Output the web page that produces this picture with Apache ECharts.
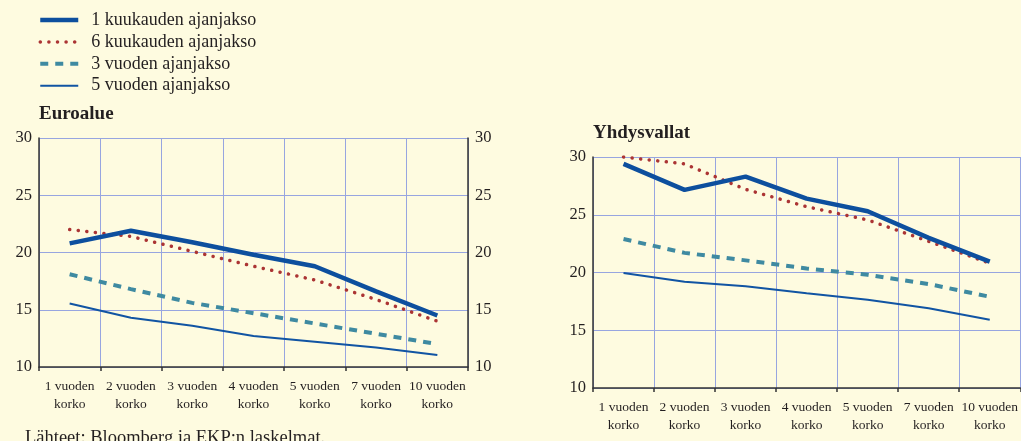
<!DOCTYPE html>
<html>
<head>
<meta charset="utf-8">
<script src="https://cdn.jsdelivr.net/npm/echarts@6/dist/echarts.min.js"></script>
<style>
html,body{margin:0;padding:0;background:#fefbe0;}
#main{width:1021px;height:441px;}
</style>
</head>
<body>
<div id="main"></div>
<script>
// maturities on the x axis
var categories = ['1 vuoden\nkorko','2 vuoden\nkorko','3 vuoden\nkorko','4 vuoden\nkorko','5 vuoden\nkorko','7 vuoden\nkorko','10 vuoden\nkorko'];
var seriesNames = ['1 kuukauden ajanjakso','6 kuukauden ajanjakso','3 vuoden ajanjakso','5 vuoden ajanjakso'];

// Euroalue
var euro1m = [20.8, 21.9, 20.9, 19.8, 18.8, 16.6, 14.5];
var euro6m = [22.0, 21.4, 20.1, 18.8, 17.6, 15.9, 14.0];
var euro3y = [18.1, 16.8, 15.6, 14.7, 13.8, 12.9, 12.0];
var euro5y = [15.55, 14.3, 13.6, 12.7, 12.2, 11.7, 11.05];

// Yhdysvallat
var us1m = [29.4, 27.15, 28.3, 26.4, 25.3, 23.0, 20.95];
var us6m = [30.0, 29.4, 27.2, 25.7, 24.55, 22.7, 20.8];
var us3y = [22.9, 21.7, 21.05, 20.35, 19.8, 19.0, 17.9];
var us5y = [19.95, 19.2, 18.8, 18.2, 17.65, 16.9, 15.9];

var yMin = 10, yMax = 30, yStep = 5;

var _chart_obj = {
    font: '"Liberation Serif", "DejaVu Serif", serif',
    init: function(){
        var myChart = echarts.init(document.getElementById('main'));
        myChart.setOption(this.buildOption());
    },
    lineStyles: function(){
        return [
            {color:'#0d4f9e', width:4.5, type:'solid'},
            {color:'#ab3434', width:3.5, type:[0.1,8.5], cap:'round'},
            {color:'#3f8aa1', width:4, type:[8,7]},
            {color:'#1154a3', width:2, type:'solid'}
        ];
    },
    xAxis: function(idx){
        return {
            type:'category', gridIndex: idx, data: categories, boundaryGap: true,
            axisLine: {lineStyle:{color:'#333', width:1.5}},
            axisTick: {show:true, length:4, lineStyle:{color:'#333', width:1.5}},
            axisLabel: {interval:0, color:'#231f20', fontFamily:this.font, fontSize:13.5, lineHeight:18, margin:10},
            splitLine: {show:true, lineStyle:{color:'#97a5e0', width:1}}
        };
    },
    yAxis: function(idx, pos){
        return {
            type:'value', gridIndex: idx, position: pos, min: yMin, max: yMax, interval: yStep,
            axisLine: {show:true, lineStyle:{color:'#333', width:1.5}},
            axisTick: {show:false},
            axisLabel: {color:'#231f20', fontFamily:this.font, fontSize:16.5, margin:7},
            splitLine: {show: pos == 'left', lineStyle:{color:'#97a5e0', width:1}}
        };
    },
    buildOption: function(){
        var styles = this.lineStyles();
        var groups = [[euro1m, euro6m, euro3y, euro5y],[us1m, us6m, us3y, us5y]];
        var series = [];
        for (var g = 0; g < groups.length; g++) {
            for (var i = 0; i < 4; i++) {
                series.push({
                    name: seriesNames[i], type:'line', xAxisIndex: g, yAxisIndex: g == 0 ? 0 : 2,
                    data: groups[g][i], symbol:'none', smooth:false,
                    lineStyle: styles[i], itemStyle:{color: styles[i].color},
                    z: 10 - i
                });
            }
        }
        var font = this.font;
        return {
            backgroundColor:'#fefbe0',
            animation:false,
            title: [
                {text:'Euroalue', left:34, top:100, textStyle:{fontFamily:font, fontSize:19, fontWeight:'bold', color:'#231f20'}},
                {text:'Yhdysvallat', left:588, top:119, textStyle:{fontFamily:font, fontSize:19, fontWeight:'bold', color:'#231f20'}},
                {text:'Lähteet: Bloomberg ja EKP:n laskelmat.', left:20, top:424, textStyle:{fontFamily:font, fontSize:18.5, fontWeight:'normal', color:'#231f20'}}
            ],
            legend: {
                orient:'vertical', left:33, top:6, itemWidth:38, itemHeight:14, itemGap:3.9,
                data: seriesNames, selectedMode:false,
                itemStyle:{opacity:0},
                lineStyle:{width:'inherit'},
                textStyle:{fontFamily:font, fontSize:18, color:'#231f20', padding:[0,0,0,8]}
            },
            grid: [
                {left:39, top:138, width:429, height:229},
                {left:593, top:157, width:428, height:231}
            ],
            xAxis: [this.xAxis(0), this.xAxis(1)],
            yAxis: [this.yAxis(0,'left'), this.yAxis(0,'right'), this.yAxis(1,'left')],
            series: series
        };
    }
};
_chart_obj.init();
</script>
</body>
</html>
